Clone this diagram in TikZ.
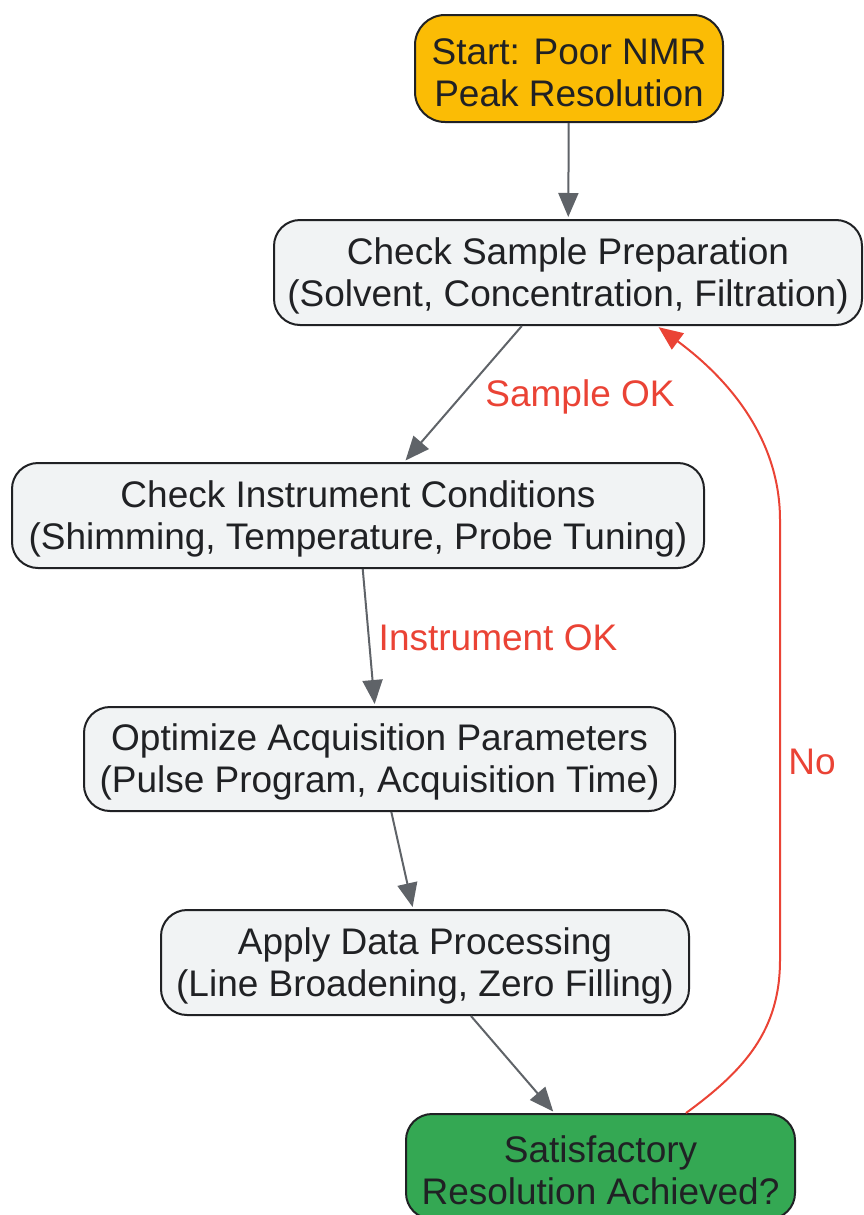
\documentclass[tikz,border=0pt]{standalone}
\usepackage{fontspec}
\setmainfont{Liberation Sans}
\usetikzlibrary{arrows.meta,calc}
\definecolor{startYellow}{RGB}{251,188,5}
\definecolor{stepGray}{RGB}{241,243,244}
\definecolor{doneGreen}{RGB}{52,168,83}
\definecolor{inkDark}{RGB}{32,33,36}
\definecolor{arrowGray}{RGB}{95,99,104}
\definecolor{loopRed}{RGB}{234,67,53}
\tikzset{
  stepBox/.style={rectangle,draw=inkDark,line width=1pt,fill=stepGray,rounded corners=13pt,
    align=center,inner sep=0pt,minimum height=52.5pt,text=inkDark,
    font=\fontsize{18.5pt}{21pt}\selectfont,text height=37.7pt},
  flowArrow/.style={-{Triangle[length=12pt,width=10pt]},draw=arrowGray,line width=1pt,shorten >=1pt},
  loopArrow/.style={-{Triangle[length=12pt,width=10pt]},draw=loopRed,line width=1pt,shorten >=1pt},
  edgeLabel/.style={text=loopRed,font=\fontsize{18.5pt}{21pt}\selectfont}
}

\begin{document}
\begin{tikzpicture}[x=0.5pt,y=-0.5pt]
\useasboundingbox (0,0) rectangle (863,1215);

\node[stepBox,fill=startYellow,rounded corners=15pt,minimum width=154pt,minimum height=53.5pt] (start) at (569,68.5) {Start: Poor NMR\\Peak Resolution};
\node[stepBox,minimum width=294pt] (sample) at (568,272.5) {Check Sample Preparation\\(Solvent, Concentration, Filtration)};
\node[stepBox,minimum width=346pt] (instr) at (358,515.5) {Check Instrument Conditions\\(Shimming, Temperature, Probe Tuning)};
\node[stepBox,minimum width=295.5pt,minimum height=52pt] (acq) at (379.5,759) {Optimize Acquisition Parameters\\(Pulse Program, Acquisition Time)};
\node[stepBox,minimum width=264pt] (proc) at (425,962.5) {Apply Data Processing\\(Line Broadening, Zero Filling)};
\node[stepBox,fill=doneGreen,minimum width=194.5pt] (check) at (600.5,1166.5) {Satisfactory\\Resolution Achieved?};

\draw[flowArrow] (start) -- (sample);
\draw[flowArrow] (sample) -- (instr);
\draw[flowArrow] (instr) -- (acq);
\draw[flowArrow] (acq) -- (proc);
\draw[flowArrow] (proc) -- (check);
\draw[loopArrow] ($(check.north)+(85.5,0)$) .. controls (745,1070) and (780,1030) .. (780,960)
  -- (780,520) .. controls (780,440) and (730,380) .. (sample.south east -| 657,0);

\node[edgeLabel] (lblSample) at (580,397) {Sample OK};
\node[edgeLabel] (lblInstr) at (498,638) {Instrument OK};
\node[edgeLabel] (lblNo) at (812,762) {No};
\end{tikzpicture}
\end{document}
